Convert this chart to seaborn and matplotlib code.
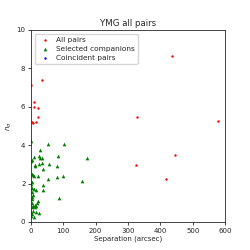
import numpy as np
import pandas as pd
import seaborn as sns
import matplotlib
matplotlib.use("Agg")
import matplotlib.pyplot as plt

# all pairs (red)
all_sep = [0, 33, 9, 8, 23, 23, 2, 7, 15, 327, 435, 579, 446, 325, 416]
all_n = [7.15, 7.41, 6.25, 5.97, 5.92, 5.47, 5.23, 5.17, 5.21, 5.49, 8.66, 5.26, 3.47, 2.97, 2.24]

# selected companions (green)
sel_sep = [1, 54, 101, 29, 8, 25, 29, 35, 84, 174, 2, 1, 13, 12, 26, 34, 56, 79, 36,
           2, 5, 8, 23, 80, 99, 53, 158, 2, 1, 38, 4, 8, 16, 37, 2, 4, 7, 2, 86,
           23, 18, 13, 7, 17, 11, 3, 6, 0, 14, 4, 24, 1, 9, 3]
sel_n = [4.24, 4.06, 4.06, 3.77, 3.37, 3.45, 3.35, 3.35, 3.42, 3.33, 3.23, 3.18, 2.99, 2.93,
         3.02, 3.06, 3.02, 2.90, 2.76, 2.52, 2.45, 2.38, 2.40, 2.36, 2.41, 2.24, 2.12, 2.08,
         2.00, 1.91, 1.77, 1.72, 1.68, 1.67, 1.58, 1.32, 1.41, 1.22, 1.25, 1.08, 0.97, 0.90,
         0.85, 0.85, 0.76, 0.76, 0.59, 0.52, 0.54, 0.43, 0.47, 0.30, 0.24, 0.97]

# coincident pairs (blue) - none visible
coin_sep = []
coin_n = []

sns.set_style("ticks")
fig = plt.figure(figsize=(2.5, 2.5), dpi=100)
ax = fig.add_axes([0.124, 0.112, 0.776, 0.768])

sns.scatterplot(x=all_sep, y=all_n, color="red", marker=".", s=12, linewidth=0,
                label="All pairs", ax=ax)
sns.scatterplot(x=sel_sep, y=sel_n, color="green", marker="^", s=7, linewidth=0,
                label="Selected companions", ax=ax)
ax.scatter(coin_sep, coin_n, color="blue", marker=".", s=12, linewidths=0,
           label="Coincident pairs")

ax.set_xlim(0, 600)
ax.set_ylim(0, 10)
ax.set_xticks([0, 100, 200, 300, 400, 500, 600])
ax.set_yticks([0, 2, 4, 6, 8, 10])
ax.tick_params(labelsize=5, length=2.5, width=0.6, pad=1.5)
for sp in ax.spines.values():
    sp.set_linewidth(0.6)
ax.set_xlabel("Separation (arcsec)", fontsize=5, labelpad=1.5)
ax.set_ylabel(r"$n_\sigma$", fontsize=5, labelpad=2)
ax.set_title("YMG all pairs", fontsize=6.2, pad=3)
ax.legend(loc="upper left", fontsize=5.3, markerscale=1.0, handletextpad=0.5,
          borderpad=0.4, labelspacing=0.4, framealpha=0.8)

fig.savefig("out.png", dpi=100)
